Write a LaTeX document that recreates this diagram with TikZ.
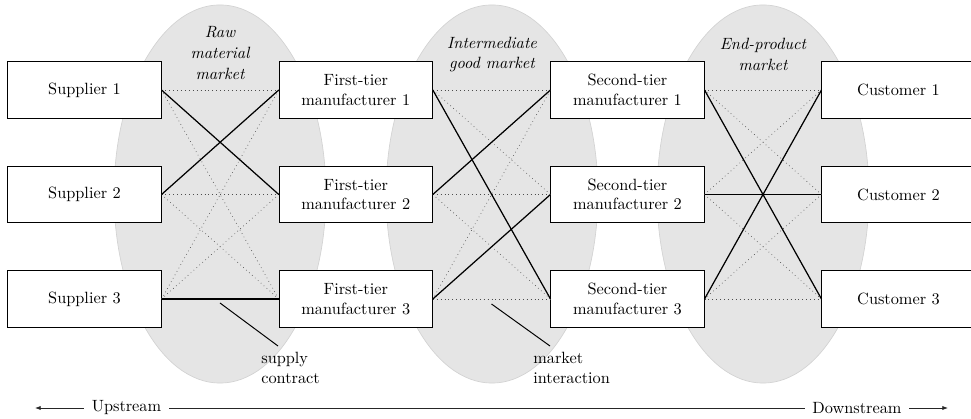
\documentclass[tikz,border=0pt]{standalone}
\usetikzlibrary{arrows.meta}
\begin{document}
\begin{tikzpicture}[x=0.6135pt,y=-0.6135pt,
  agent/.style={draw=black, line width=0.6pt, fill=white,
    minimum width=93.9pt, minimum height=34.4pt, align=center, inner sep=0pt},
  market/.style={fill=gray!20, draw=gray!35, line width=0.4pt},
  mlabel/.style={font={\itshape\fontsize{10}{12.8}\selectfont}, align=center, inner sep=0pt},
  potential/.style={dotted, line width=0.4pt, black!70},
  contract/.style={line width=0.75pt, black},
  pointer/.style={line width=0.6pt, black},
  note/.style={anchor=north west, align=left, inner sep=0pt},
  flowlabel/.style={fill=white, inner xsep=4.5pt, inner ysep=1pt}
]
\useasboundingbox (0,0) rectangle (971,419);
\clip (0,0) rectangle (971,419);

% the three markets
\foreach \cx in {220,492,763}
  \draw[market] (\cx,194) ellipse [x radius=65pt, y radius=116pt];

\node[mlabel] (rawlbl) at (220,53) {Raw\\material\\market};
\node[mlabel] (intlbl) at (492,54.5) {Intermediate\\good market};
\node[mlabel] (endlbl) at (763,54.5) {End-product\\market};

% agents along the chain
\foreach \i/\y in {1/90,2/194.5,3/299} {
  \node[agent] (s\i) at (84.5,\y) {Supplier \i};
  \node[agent] (f\i) at (355.8,\y) {First-tier\\manufacturer \i};
  \node[agent] (t\i) at (627.5,\y) {Second-tier\\manufacturer \i};
  \node[agent] (c\i) at (898.5,\y) {Customer \i};
}

% every possible pairing inside each market
\foreach \a in {1,2,3} {
  \foreach \b in {1,2,3} {
    \draw[potential] (s\a.east) -- (f\b.west);
    \draw[potential] (f\a.east) -- (t\b.west);
    \draw[potential] (t\a.east) -- (c\b.west);
  }
}

% realised supply contracts
\draw[contract] (s1.east) -- (f2.west);
\draw[contract] (s2.east) -- (f1.west);
\draw[contract] (s3.east) -- (f3.west);
\draw[contract] (f1.east) -- (t3.west);
\draw[contract] (f2.east) -- (t1.west);
\draw[contract] (f3.east) -- (t2.west);
\draw[contract] (t1.east) -- (c3.west);
\draw[contract] (t2.east) -- (c2.west);
\draw[contract] (t3.east) -- (c1.west);

% annotations
\coordinate (scA) at (220,303);
\coordinate (scB) at (278,346);
\draw[pointer] (scA) -- (scB);
\node[note] (sclbl) at (261,352) {supply\\contract};

\coordinate (miA) at (491.5,304);
\coordinate (miB) at (550,346);
\draw[pointer] (miA) -- (miB);
\node[note] (milbl) at (533,352) {market\\interaction};

% direction of the chain
\coordinate (upend) at (35,408);
\coordinate (downend) at (948,408);
\draw[{Latex[length=3.5pt,width=2.6pt]}-{Latex[length=3.5pt,width=2.6pt]},
  line width=0.5pt, black!85] (upend) -- (downend);
\node[flowlabel] (up) at (126.5,408) {Upstream};
\node[flowlabel] (down) at (857,408) {Downstream};
\end{tikzpicture}
\end{document}
